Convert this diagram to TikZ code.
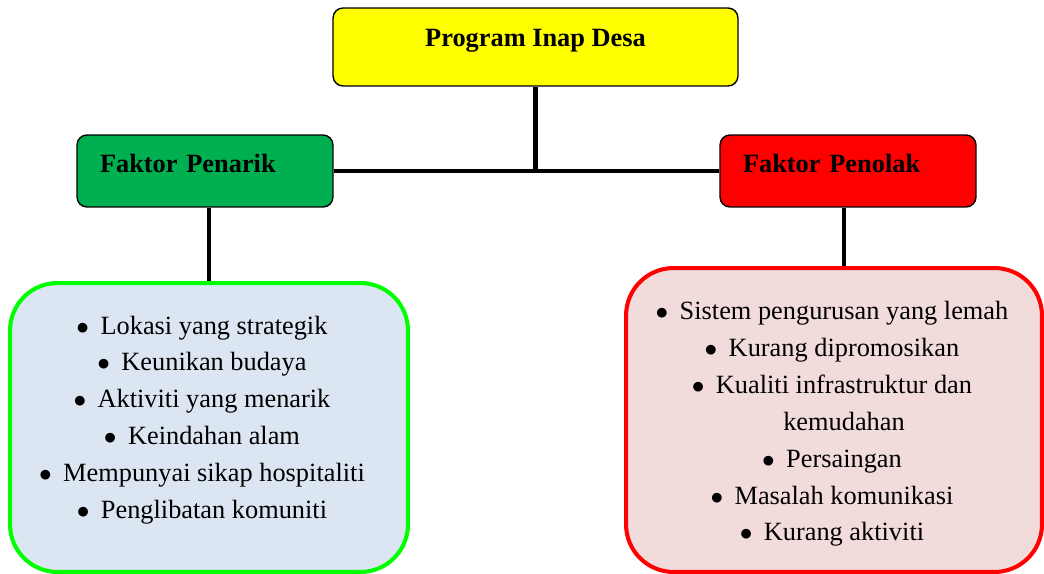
\documentclass[tikz,border=0pt]{standalone}
\usepackage{fontspec}
\setmainfont{Liberation Serif}
\usepackage{xcolor}
\definecolor{desayellow}{RGB}{255,255,0}
\definecolor{desagreen}{RGB}{0,176,80}
\definecolor{desared}{RGB}{255,0,0}
\definecolor{desalime}{RGB}{0,255,0}
\definecolor{desablue}{RGB}{220,230,242}
\definecolor{desapink}{RGB}{242,220,219}
\usetikzlibrary{positioning,calc}
\tikzset{
  head/.style={draw=black,line width=0.8pt,rounded corners=0.2cm,fill=desayellow,inner sep=0pt,font=\bfseries\fontsize{15}{18}\selectfont,text height=10pt,text depth=10pt},
  faktor/.style={draw=black,line width=0.8pt,rounded corners=0.2cm,text width=4.2cm,align=left,inner xsep=0.46cm,inner ysep=0pt,minimum height=1.44cm,font=\bfseries\fontsize{15}{18}\selectfont,text height=11pt,text depth=9pt},
  listbox/.style={line width=2.3pt,rounded corners=0.95cm,inner sep=0pt},
  listtxt/.style={align=center,inner sep=0pt,font=\fontsize{15}{21}\selectfont},
  conn/.style={line width=2.8pt,draw=black},
}
\newcommand{\bul}{\llap{$\bullet$\hspace{6.5pt}}}

\begin{document}
\begin{tikzpicture}[x=0.02cm,y=-0.02cm]
    \useasboundingbox (0,0) rectangle (1044,574);
    \node[head,minimum width=8.1cm,minimum height=1.56cm] (prog) at (535.5,47) {Program Inap Desa};
    \node[faktor,fill=desagreen] (penarik) at (205,171) {Faktor Penarik};
    \node[faktor,fill=desared] (penolak) at (848,171) {Faktor Penolak};
    \node[listbox,draw=desalime,fill=desablue,minimum width=7.96cm,minimum height=5.78cm] (tarikbox) at (209,427.5) {};
    \node[listbox,draw=desared,fill=desapink,minimum width=8.32cm,minimum height=6.08cm] (tolakbox) at (834,420) {};
    \node[listtxt] (tariklist) at (214,420) {\bul Lokasi yang strategik\\ \bul Keunikan budaya\\ \bul Aktiviti yang menarik\\ \bul Keindahan alam\\ \bul Mempunyai sikap hospitaliti\\ \bul Penglibatan komuniti};
    \node[listtxt] (tolaklist) at (844,424) {\bul Sistem pengurusan yang lemah\\ \bul Kurang dipromosikan\\ \bul Kualiti infrastruktur dan\\ kemudahan\\ \bul Persaingan\\ \bul Masalah komunikasi\\ \bul Kurang aktiviti};
    \draw[conn] (prog) -- (prog |- penarik.east);
    \draw[conn] (penarik) -- (penolak);
    \draw[conn] (tarikbox.north) -- (tarikbox.north |- penarik.south);
    \draw[conn] (tolaklist |- tolakbox.north) -- (tolaklist |- penolak.south);
\end{tikzpicture}
\end{document}
